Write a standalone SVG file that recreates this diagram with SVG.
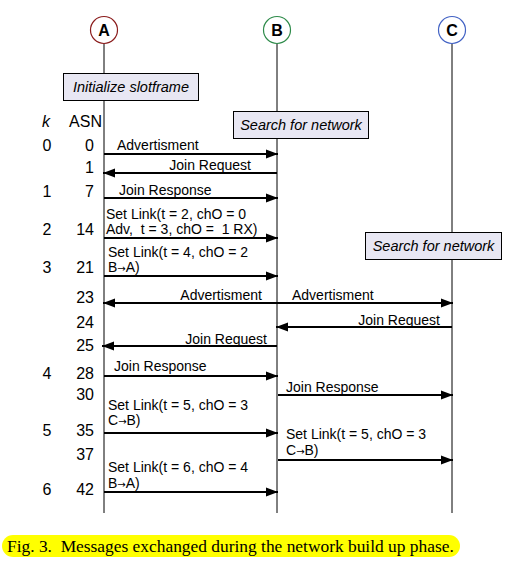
<svg xmlns="http://www.w3.org/2000/svg" width="510" height="576" viewBox="0 0 510 576">
<style>
.life{stroke:#000;stroke-width:1;fill:none}
.msg{stroke:#000;stroke-width:2;fill:none}
.lbl{font-family:"Liberation Sans",Arial,sans-serif;font-size:14px;fill:#000}
.arr{font-family:"DejaVu Sans",sans-serif;font-size:10px}
.num{font-family:"Liberation Sans",Arial,sans-serif;font-size:16px;fill:#000}
.nodeT{font-family:"Liberation Sans",Arial,sans-serif;font-size:16px;font-weight:bold;fill:#000;text-anchor:middle}
.box{fill:#e8e7f3;stroke:#000;stroke-width:1}
.boxT{font-family:"Liberation Sans",Arial,sans-serif;font-size:14.5px;font-style:italic;fill:#000;text-anchor:middle}
.cap{font-family:"Liberation Serif","Times New Roman",serif;font-size:17.4px;fill:#000}
</style>
<defs>
<marker id="ah" markerUnits="userSpaceOnUse" markerWidth="14" markerHeight="10" refX="12" refY="5" orient="auto">
<path d="M0,0.5 L12,5 L0,9.5 z" fill="#000"/>
</marker>
</defs>
<rect width="510" height="576" fill="#fff"/>
<g id="lifelines">
<line class="life" x1="104" y1="44" x2="104" y2="513"/>
<line class="life" x1="277" y1="44" x2="277" y2="513"/>
<line class="life" x1="452" y1="44" x2="452" y2="513"/>
</g>
<g id="nodeA"><circle cx="104" cy="30" r="13.5" fill="#fff" stroke="#8b1c1c" stroke-width="1.2"/><text class="nodeT" x="104" y="36">A</text></g>
<g id="nodeB"><circle cx="277" cy="30" r="13.5" fill="#fff" stroke="#2e8b4a" stroke-width="1.2"/><text class="nodeT" x="277" y="36">B</text></g>
<g id="nodeC"><circle cx="452" cy="30" r="13.5" fill="#fff" stroke="#4262c4" stroke-width="1.2"/><text class="nodeT" x="452" y="36">C</text></g>
<g id="initA"><rect class="box" x="63.5" y="73.5" width="135" height="27"/><text class="boxT" x="131" y="92">Initialize slotframe</text></g>
<g id="searchB"><rect class="box" x="233.5" y="111.5" width="135" height="27"/><text class="boxT" x="301" y="130">Search for network</text></g>
<g id="searchC"><rect class="box" x="365.5" y="232.5" width="136" height="27"/><text class="boxT" x="433.5" y="251">Search for network</text></g>
<g id="axis">
<text class="num" x="46" y="127" text-anchor="middle" font-style="italic">k</text>
<text class="num" x="102" y="127" text-anchor="end">ASN</text>
<g text-anchor="middle">
<text class="num" x="47" y="151">0</text>
<text class="num" x="47" y="197">1</text>
<text class="num" x="47" y="235">2</text>
<text class="num" x="47" y="273">3</text>
<text class="num" x="47" y="379">4</text>
<text class="num" x="47" y="436">5</text>
<text class="num" x="47" y="495">6</text>
</g>
<g text-anchor="end">
<text class="num" x="94" y="151">0</text>
<text class="num" x="94" y="173">1</text>
<text class="num" x="94" y="197">7</text>
<text class="num" x="94" y="235">14</text>
<text class="num" x="94" y="273">21</text>
<text class="num" x="94" y="303">23</text>
<text class="num" x="94" y="328">24</text>
<text class="num" x="94" y="351">25</text>
<text class="num" x="94" y="379">28</text>
<text class="num" x="94" y="400">30</text>
<text class="num" x="94" y="436">35</text>
<text class="num" x="94" y="460">37</text>
<text class="num" x="94" y="495">42</text>
</g>
</g>
<g id="connectors">
<line class="msg" x1="104" y1="154" x2="278" y2="154" marker-end="url(#ah)"/>
<line class="msg" x1="277" y1="173" x2="103" y2="173" marker-end="url(#ah)"/>
<line class="msg" x1="104" y1="198" x2="278" y2="198" marker-end="url(#ah)"/>
<line class="msg" x1="104" y1="238" x2="278" y2="238" marker-end="url(#ah)"/>
<line class="msg" x1="104" y1="276" x2="278" y2="276" marker-end="url(#ah)"/>
<line class="msg" x1="190" y1="303" x2="103" y2="303" marker-end="url(#ah)"/>
<line class="msg" x1="190" y1="303" x2="453" y2="303" marker-end="url(#ah)"/>
<line class="msg" x1="452" y1="327" x2="276" y2="327" marker-end="url(#ah)"/>
<line class="msg" x1="277" y1="346" x2="102" y2="346" marker-end="url(#ah)"/>
<line class="msg" x1="104" y1="376" x2="278" y2="376" marker-end="url(#ah)"/>
<line class="msg" x1="278" y1="395" x2="453" y2="395" marker-end="url(#ah)"/>
<line class="msg" x1="104" y1="433" x2="278" y2="433" marker-end="url(#ah)"/>
<line class="msg" x1="278" y1="460" x2="453" y2="460" marker-end="url(#ah)"/>
<line class="msg" x1="104" y1="492" x2="278" y2="492" marker-end="url(#ah)"/>
</g>
<g id="labels">
<text class="lbl" x="117" y="150">Advertisment</text>
<text class="lbl" x="251" y="170" text-anchor="end">Join Request</text>
<text class="lbl" x="119" y="195">Join Response</text>
<text class="lbl" x="106" y="219">Set Link(t = 2, chO = 0</text>
<text class="lbl" x="106" y="234" xml:space="preserve">Adv,  t = 3, chO =  1 RX)</text>
<text class="lbl" x="108" y="257">Set Link(t = 4, chO = 2</text>
<text class="lbl" x="108" y="272">B<tspan class="arr">→</tspan>A)</text>
<text class="lbl" x="262" y="300" text-anchor="end">Advertisment</text>
<text class="lbl" x="292" y="300">Advertisment</text>
<text class="lbl" x="440" y="325" text-anchor="end">Join Request</text>
<text class="lbl" x="267" y="344" text-anchor="end">Join Request</text>
<text class="lbl" x="114" y="371">Join Response</text>
<text class="lbl" x="286" y="392">Join Response</text>
<text class="lbl" x="108" y="410">Set Link(t = 5, chO = 3</text>
<text class="lbl" x="108" y="425">C<tspan class="arr">→</tspan>B)</text>
<text class="lbl" x="286" y="439">Set Link(t = 5, chO = 3</text>
<text class="lbl" x="286" y="455">C<tspan class="arr">→</tspan>B)</text>
<text class="lbl" x="108" y="472">Set Link(t = 6, chO = 4</text>
<text class="lbl" x="108" y="488">B<tspan class="arr">→</tspan>A)</text>
</g>
<g id="caption">
<rect x="2" y="535" width="458" height="22" rx="11" fill="#ffff00"/>
<text class="cap" x="7" y="552" xml:space="preserve">Fig. 3.  Messages exchanged during the network build up phase.</text>
</g>
</svg>
